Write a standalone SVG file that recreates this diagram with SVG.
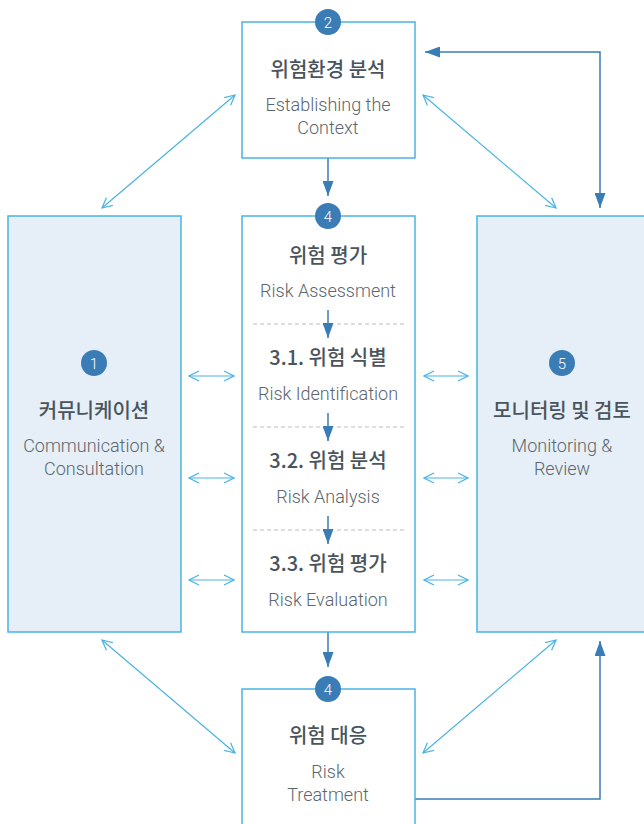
<svg xmlns="http://www.w3.org/2000/svg" width="644" height="824" viewBox="0 0 644 824">
<defs>
<marker id="open" viewBox="0 0 12 12" refX="11" refY="6" markerWidth="12" markerHeight="12" markerUnits="userSpaceOnUse" orient="auto-start-reverse">
<path d="M1,1 L11,6 L1,11" fill="none" stroke="#4ab3e3" stroke-width="1.2"/>
</marker>
<marker id="solid" viewBox="0 0 15 11" refX="15" refY="5.5" markerWidth="15" markerHeight="11" markerUnits="userSpaceOnUse" orient="auto-start-reverse">
<path d="M0,0 L15,5.5 L0,11 Z" fill="#3a7cb6"/>
</marker>
</defs>
<style>
.box{fill:#ffffff;stroke:#4ab3e3;stroke-width:1.5}
.side{fill:#e6eff7;stroke:#4ab3e3;stroke-width:1.5}
.lt{fill:none;stroke:#4ab3e3;stroke-width:1.2;marker-start:url(#open);marker-end:url(#open)}
.dk{fill:none;stroke:#3a7cb6;stroke-width:1.5}
.num{fill:#3a7cb6}
.nt{font-family:Roboto,"Noto Sans",sans-serif;font-size:15px;font-weight:300;fill:#ffffff;text-anchor:middle}
.ko{font-family:"Noto Sans CJK KR",sans-serif;font-size:20px;font-weight:500;fill:#4a545c;text-anchor:middle}
.en{font-family:Roboto,"Noto Sans",sans-serif;font-size:18px;font-weight:300;fill:#5b666e;text-anchor:middle}
.dash{stroke:#b8bcbf;stroke-width:1;stroke-dasharray:4,3}
</style>
<g id="connectors">
<line class="lt" x1="102" y1="208" x2="235" y2="95"/>
<line class="lt" x1="423" y1="95" x2="556" y2="208"/>
<line class="lt" x1="102" y1="640" x2="235" y2="753"/>
<line class="lt" x1="423" y1="753" x2="556" y2="640"/>
<line class="lt" x1="189" y1="376" x2="234" y2="376"/>
<line class="lt" x1="189" y1="478" x2="234" y2="478"/>
<line class="lt" x1="189" y1="580" x2="234" y2="580"/>
<line class="lt" x1="424" y1="376" x2="468" y2="376"/>
<line class="lt" x1="424" y1="478" x2="468" y2="478"/>
<line class="lt" x1="424" y1="580" x2="468" y2="580"/>
<path class="dk" d="M425,52 H600 V208" marker-start="url(#solid)" marker-end="url(#solid)"/>
<path class="dk" d="M415,799 H600 V641" marker-end="url(#solid)"/>
<line class="dk" x1="328" y1="158" x2="328" y2="196" marker-end="url(#solid)"/>
<line class="dk" x1="328" y1="632" x2="328" y2="667" marker-end="url(#solid)"/>
</g>
<g id="node-2">
<rect class="box" x="242" y="22" width="173" height="136"/>
<circle class="num" cx="328" cy="22" r="13"/>
<text class="nt" x="328" y="27.5">2</text>
<text class="ko" x="328" y="77">위험환경 분석</text>
<text class="en" x="328" y="111">Establishing the</text>
<text class="en" x="328" y="134">Context</text>
</g>
<g id="node-1">
<rect class="side" x="8" y="216" width="173" height="416"/>
<circle class="num" cx="94" cy="363" r="13"/>
<text class="nt" x="94" y="368.5">1</text>
<text class="ko" x="94" y="418">커뮤니케이션</text>
<text class="en" x="94" y="452">Communication &amp;</text>
<text class="en" x="94" y="475">Consultation</text>
</g>
<g id="node-5">
<rect class="side" x="477" y="216" width="180" height="416"/>
<circle class="num" cx="562" cy="363" r="13"/>
<text class="nt" x="562" y="368.5">5</text>
<text class="ko" x="562" y="418">모니터링 및 검토</text>
<text class="en" x="562" y="452">Monitoring &amp;</text>
<text class="en" x="562" y="475">Review</text>
</g>
<g id="node-3">
<rect class="box" x="242" y="216" width="173" height="416"/>
<line class="dash" x1="253" y1="324" x2="320" y2="324"/>
<line class="dash" x1="337" y1="324" x2="405" y2="324"/>
<line class="dash" x1="253" y1="427" x2="320" y2="427"/>
<line class="dash" x1="337" y1="427" x2="405" y2="427"/>
<line class="dash" x1="253" y1="530" x2="320" y2="530"/>
<line class="dash" x1="337" y1="530" x2="405" y2="530"/>
<line class="dk" x1="328" y1="310" x2="328" y2="338" marker-end="url(#solid)"/>
<line class="dk" x1="328" y1="413" x2="328" y2="441" marker-end="url(#solid)"/>
<line class="dk" x1="328" y1="516" x2="328" y2="544" marker-end="url(#solid)"/>
<circle class="num" cx="328" cy="216" r="13"/>
<text class="nt" x="328" y="221.5">4</text>
<text class="ko" x="328" y="263">위험 평가</text>
<text class="en" x="328" y="297">Risk Assessment</text>
<text class="ko" x="328" y="365">3.1. 위험 식별</text>
<text class="en" x="328" y="400">Risk Identification</text>
<text class="ko" x="328" y="468">3.2. 위험 분석</text>
<text class="en" x="328" y="503">Risk Analysis</text>
<text class="ko" x="328" y="571">3.3. 위험 평가</text>
<text class="en" x="328" y="606">Risk Evaluation</text>
</g>
<g id="node-4">
<rect class="box" x="242" y="689" width="173" height="150"/>
<circle class="num" cx="328" cy="689" r="13"/>
<text class="nt" x="328" y="694.5">4</text>
<text class="ko" x="328" y="743">위험 대응</text>
<text class="en" x="328" y="778">Risk</text>
<text class="en" x="328" y="801">Treatment</text>
</g>
</svg>
